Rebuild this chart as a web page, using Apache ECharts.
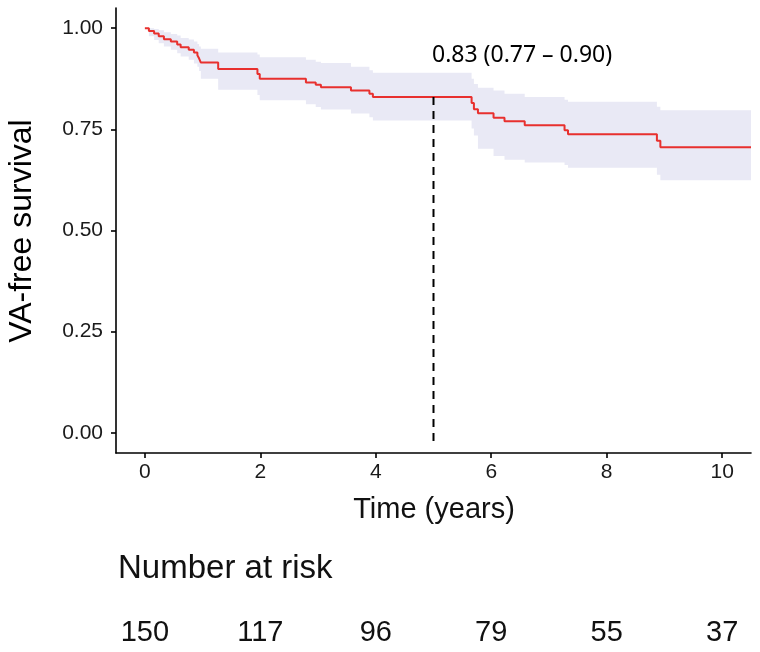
<!DOCTYPE html>
<html>
<head>
<meta charset="utf-8">
<script src="https://cdn.jsdelivr.net/npm/echarts@6/dist/echarts.min.js"></script>
<style>
html,body{margin:0;padding:0;background:#fff;}
#chart{width:760px;height:652px;}
</style>
</head>
<body>
<div id="chart"></div>
<script>
// ---- data ----
const times = [0, 0.07, 0.16, 0.24, 0.33, 0.45, 0.56, 0.62, 0.76, 0.85, 0.91, 0.94, 0.97, 1.27, 1.95, 1.99, 2.79, 2.96, 3.05, 3.57, 3.89, 3.95, 5.66, 5.70, 5.77, 6.04, 6.23, 6.58, 7.27, 7.33, 8.87, 8.93, 10.5];
const surv  = [1.0, .993, .987, .980, .973, .967, .960, .953, .947, .940, .933, .925, .915, .899, .887, .875, .866, .860, .854, .846, .838, .830, .815, .800, .790, .779, .770, .760, .748, .738, .722, .706, .706];
const upper = [1.0, 1.0, .998, .995, .990, .986, .982, .976, .972, .967, .961, .955, .949, .940, .935, .928, .922, .917, .914, .905, .896, .890, .875, .862, .853, .846, .838, .830, .823, .818, .806, .797, .797];
const lower = [1.0, .980, .971, .963, .955, .947, .938, .930, .922, .913, .905, .894, .875, .848, .835, .822, .812, .805, .799, .789, .780, .772, .752, .735, .702, .684, .675, .668, .662, .655, .638, .624, .624];
const xTicks = [0, 2, 4, 6, 8, 10];
const yTicks = [0, 0.25, 0.5, 0.75, 1.0];
const riskTimes = [0, 2, 4, 6, 8, 10];
const riskCounts = [150, 117, 96, 79, 55, 37];
const annotTime = 5;
const annotSurv = 0.83;
const annotLow = 0.77;
const annotHigh = 0.90;
const annotBottom = -0.035;

// ---- chart ----
const chart = echarts.init(document.getElementById('chart'), null, {renderer: 'canvas'});
const sans = 'Liberation Sans, Arial, sans-serif';
const tickFont = {fontFamily: sans, fontSize: 21, color: '#1a1a1a'};

const option = {
  animation: false,
  backgroundColor: '#fff',
  grid: [
    {left: 116, right: 9, top: 8, bottom: 199, containLabel: false},
    {left: 116, right: 9, top: 615, height: 36, containLabel: false}
  ],
  xAxis: [
    {
      type: 'value', gridIndex: 0, min: -0.5, max: 10.5,
      axisLine: {show: true, onZero: false, lineStyle: {color: '#000', width: 1.6}},
      axisTick: {show: true, length: 5, lineStyle: {color: '#000', width: 1.6}, customValues: xTicks},
      axisLabel: Object.assign({margin: 9, customValues: xTicks, formatter: v => String(v)}, tickFont),
      splitLine: {show: false}
    },
    {
      type: 'value', gridIndex: 1, min: -0.5, max: 10.5,
      axisLine: {show: false}, axisTick: {show: false}, axisLabel: {show: false}, splitLine: {show: false}
    }
  ],
  yAxis: [
    {
      type: 'value', gridIndex: 0, min: -0.05, max: 1.05,
      axisLine: {show: true, onZero: false, lineStyle: {color: '#000', width: 1.6}},
      axisTick: {show: true, length: 5, lineStyle: {color: '#000', width: 1.6}, customValues: yTicks},
      axisLabel: Object.assign({margin: 13, customValues: yTicks, formatter: v => v.toFixed(2)}, tickFont),
      splitLine: {show: false}
    },
    {
      type: 'value', gridIndex: 1, min: 0, max: 1, show: false
    }
  ],
  series: [
    {
      type: 'custom',
      xAxisIndex: 0, yAxisIndex: 0,
      data: [0],
      silent: true,
      z: 1,
      renderItem: function (params, api) {
        const pts = [];
        for (let i = 0; i < times.length; i++) {
          pts.push(api.coord([times[i], upper[i]]));
          if (i < times.length - 1) pts.push(api.coord([times[i + 1], upper[i]]));
        }
        for (let i = times.length - 1; i >= 0; i--) {
          if (i < times.length - 1) pts.push(api.coord([times[i + 1], lower[i]]));
          pts.push(api.coord([times[i], lower[i]]));
        }
        return {type: 'polygon', shape: {points: pts}, style: {fill: '#e9e9f5', stroke: null}};
      }
    },
    {
      type: 'line',
      xAxisIndex: 0, yAxisIndex: 0,
      step: 'end',
      symbol: 'none',
      z: 3,
      lineStyle: {color: '#e8302e', width: 2},
      data: times.map((t, i) => [t, surv[i]])
    },
    {
      type: 'line',
      xAxisIndex: 0, yAxisIndex: 0,
      symbol: 'none',
      z: 4,
      lineStyle: {color: '#000', width: 2, type: [8, 6]},
      data: [[annotTime, annotSurv], [annotTime, annotBottom]]
    },
    {
      type: 'scatter',
      xAxisIndex: 1, yAxisIndex: 1,
      symbolSize: 0,
      itemStyle: {color: '#000'},
      label: {
        show: true, position: 'inside',
        formatter: p => String(riskCounts[p.dataIndex]),
        fontFamily: sans, fontSize: 29, color: '#111', textBorderWidth: 0, opacity: 1
      },
      data: riskTimes.map(t => [t, 0.5])
    }
  ],
  graphic: [
    {
      type: 'text', x: 22, y: 231, rotation: Math.PI / 2,
      style: {text: 'VA-free survival', fontFamily: sans, fontSize: 32, fill: '#000', align: 'center', verticalAlign: 'middle'}
    },
    {
      type: 'text', x: 434, y: 510,
      style: {text: 'Time (years)', fontFamily: sans, fontSize: 29, fill: '#111', align: 'center', verticalAlign: 'middle'}
    },
    {
      type: 'text', x: 118, y: 569,
      style: {text: 'Number at risk', fontFamily: sans, fontSize: 33, fill: '#111', align: 'left', verticalAlign: 'middle'}
    },
    {
      type: 'text', x: 432, y: 55,
      style: {
        text: annotSurv.toFixed(2) + ' (' + annotLow.toFixed(2) + ' \u2013 ' + annotHigh.toFixed(2) + ')',
        fontFamily: 'Noto Sans, Open Sans, sans-serif', fontSize: 23, fill: '#000', align: 'left', verticalAlign: 'middle'
      }
    }
  ]
};
chart.setOption(option);
</script>
</body>
</html>
